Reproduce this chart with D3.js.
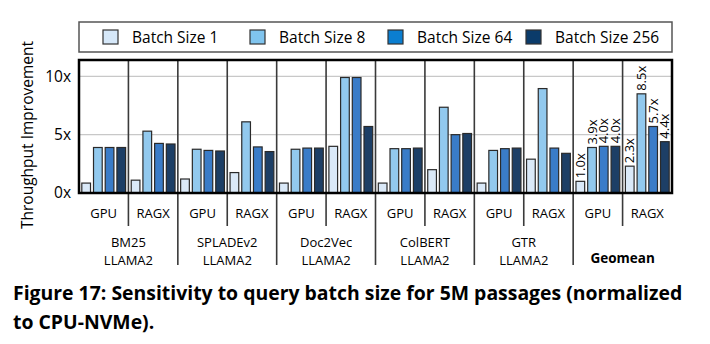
<!DOCTYPE html>
<html><head><meta charset="utf-8">
<script src="https://cdn.jsdelivr.net/npm/d3@7"></script>
<style>
body{margin:0;background:#fff;}
svg{display:block;}
text{font-family:"Open Sans","DejaVu Sans",sans-serif;}
</style></head>
<body><svg id="c" width="710" height="344"></svg>
<script>
const series = ["Batch Size 1","Batch Size 8","Batch Size 64","Batch Size 256"];
const barColors = ["#dae9f8","#92c9ee","#3a7cc8","#1d3f66"];
const legendColors = ["#d6e8f9","#80c4ee","#0b7ed0","#0b3b6a"];
const families = [["BM25","LLAMA2"],["SPLADEv2","LLAMA2"],["Doc2Vec","LLAMA2"],["ColBERT","LLAMA2"],["GTR","LLAMA2"],["Geomean"]];
const systems = ["GPU","RAGX"];
const b1   = [0.85,1.1, 1.2,1.75, 0.85,4.0, 0.85,2.0, 0.85,2.9, 1.0,2.3];
const b8   = [3.9,5.3, 3.75,6.1, 3.75,9.9, 3.8,7.35, 3.65,8.95, 3.9,8.5];
const b64  = [3.9,4.25, 3.65,3.95, 3.85,9.9, 3.8,5.0, 3.8,3.85, 4.0,5.7];
const b256 = [3.9,4.2, 3.6,3.55, 3.85,5.7, 3.85,5.1, 3.85,3.4, 4.0,4.4];
const yTicks = [0,5,10];
const tickLabels = ["0x","5x","10x"];

const svg = d3.select("#c");
const L=79, R=672, T=60, B=193;
const groups = d3.range(12);
const x = d3.scaleBand().domain(groups).range([L,R]).padding(0);
const y = d3.scaleLinear().domain([0,11.4]).range([B,T]);
const data = [b1,b8,b64,b256];
const step = 11.7, bw = 8.7;
const barX = (g,s)=> x(g) + x.bandwidth()/2 + (s-1.5)*step - bw/2;

// legend
svg.append("rect").attr("x",L).attr("y",22).attr("width",R-L).attr("height",30)
  .attr("fill","#fff").attr("stroke","#555").attr("stroke-width",1.5);
const legX = [103,250,388,526];
series.forEach((s,i)=>{
  svg.append("rect").attr("x",legX[i]).attr("y",30).attr("width",15).attr("height",14)
    .attr("fill",legendColors[i]).attr("stroke","#333").attr("stroke-width",1.2);
  svg.append("text").attr("x",legX[i]+29).attr("y",43).attr("font-size",15.5).text(s);
});

// gridlines
svg.append("g").selectAll("line").data(yTicks.filter(d=>d>0)).join("line")
  .attr("x1",L).attr("x2",R).attr("y1",d=>y(d)).attr("y2",d=>y(d))
  .attr("stroke","#c8c8c8").attr("stroke-width",1.2);

// separators
for(let g=1; g<12; g++){
  const xx = x(g);
  const fam = g%2===0;
  svg.append("line").attr("x1",xx).attr("x2",xx).attr("y1",T).attr("y2",fam?265:226)
    .attr("stroke","#3a3a3a").attr("stroke-width",1.6);
}

// bars
data.forEach((vals,s)=>{
  svg.append("g").selectAll("rect").data(vals).join("rect")
    .attr("x",(d,g)=>barX(g,s)).attr("width",bw)
    .attr("y",d=>y(d)).attr("height",d=>B-y(d))
    .attr("fill",barColors[s]).attr("stroke","#2a2a2a").attr("stroke-width",1.2);
});

// value labels for Geomean
[10,11].forEach(g=>{
  data.forEach((vals,s)=>{
    const cx = barX(g,s)+bw/2, ty = y(vals[g])-3;
    svg.append("text").attr("transform",`translate(${cx+4.5},${ty}) rotate(-90)`)
      .attr("font-size",13).text(vals[g].toFixed(1)+"x");
  });
});

// frame
svg.append("rect").attr("x",L).attr("y",T).attr("width",R-L).attr("height",B-T)
  .attr("fill","none").attr("stroke","#000").attr("stroke-width",2.5);

// y axis
const yAxis = d3.axisLeft(y).tickValues(yTicks).tickFormat((d,i)=>tickLabels[i]).tickSize(0).tickPadding(8);
const ga = svg.append("g").attr("transform",`translate(${L},0)`).call(yAxis);
ga.select(".domain").remove();
ga.selectAll("text").attr("font-size",15.5).attr("font-family","Open Sans, sans-serif").attr("fill","#000");

svg.append("text").attr("transform","translate(33,135) rotate(-90)").attr("text-anchor","middle")
  .attr("font-size",15.5).text("Throughput Improvement");

// x labels
groups.forEach(g=>{
  svg.append("text").attr("x",x(g)+x.bandwidth()/2).attr("y",218).attr("text-anchor","middle")
    .attr("font-size",13).text(systems[g%2]);
});
families.forEach((f,i)=>{
  const cx = x(2*i+1);
  if(f.length===2){
    svg.append("text").attr("x",cx).attr("y",246.5).attr("text-anchor","middle").attr("font-size",13).text(f[0]);
    svg.append("text").attr("x",cx).attr("y",264.5).attr("text-anchor","middle").attr("font-size",13).text(f[1]);
  } else {
    svg.append("text").attr("x",cx).attr("y",263).attr("text-anchor","middle").attr("font-size",13.5).attr("font-weight","bold").text(f[0]);
  }
});

// caption
const cap = svg.append("text").attr("x",13).attr("y",300).attr("font-size",20).attr("font-weight","bold")
  .attr("font-family","Lato, sans-serif");
const c1 = cap.append("tspan").attr("x",13).attr("y",300).text("Figure 17: Sensitivity to query batch size for 5M passages (normalized");
const w = c1.node().getComputedTextLength();
const fs = 20*670/w;
cap.attr("font-size",fs);
cap.append("tspan").attr("x",13).attr("y",329).text("to CPU-NVMe).");
</script></body></html>
